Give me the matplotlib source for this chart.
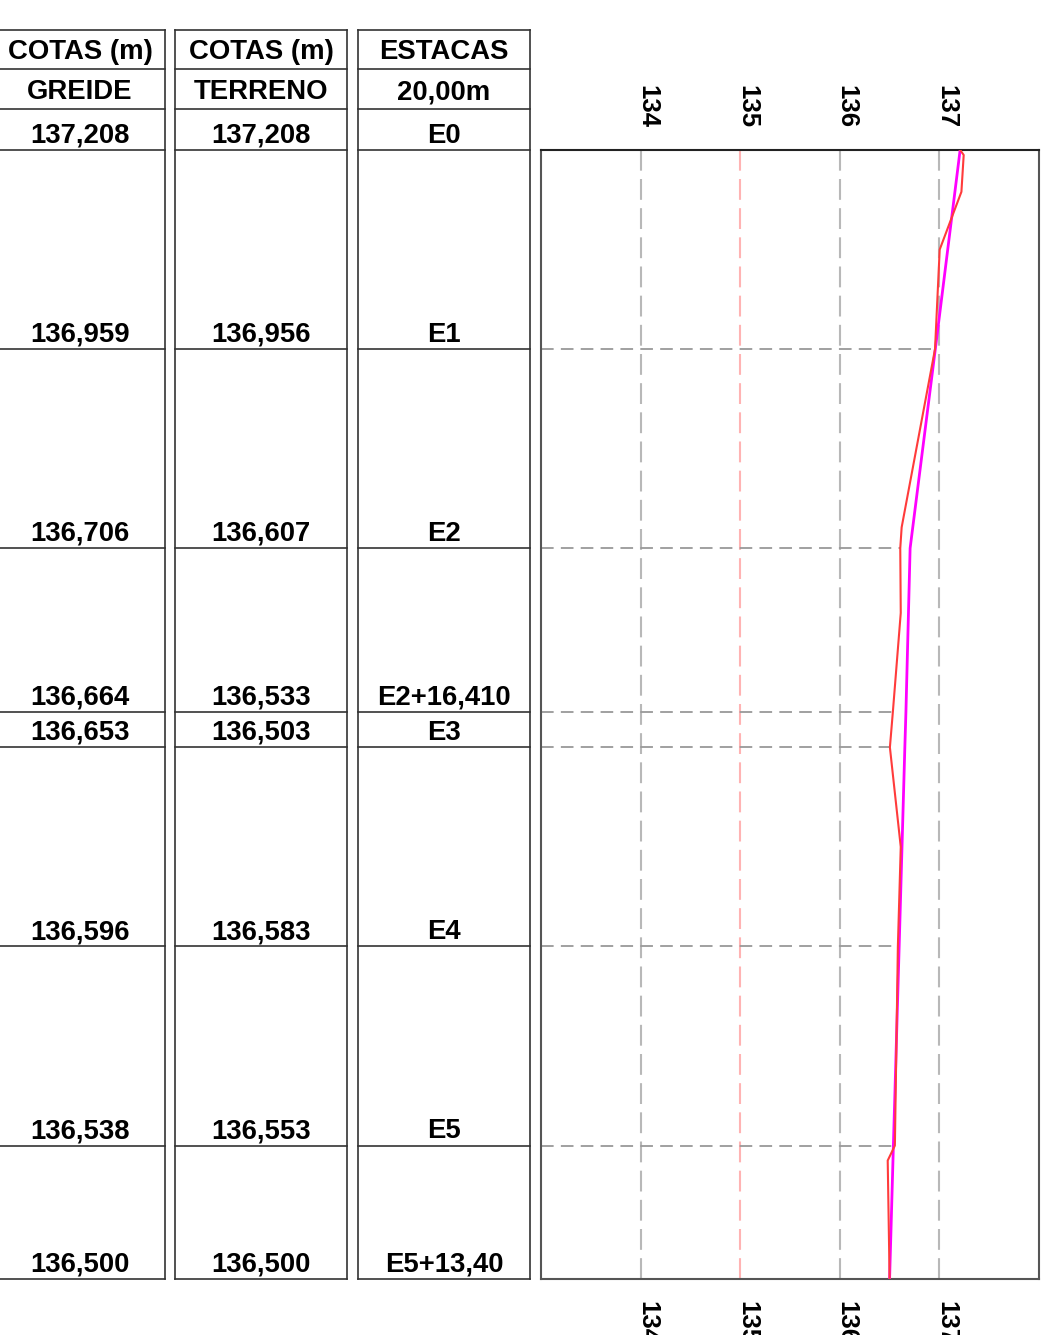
import matplotlib
matplotlib.use("Agg")
import matplotlib.pyplot as plt

plt.rcParams["font.family"] = ["Liberation Sans", "DejaVu Sans"]
plt.rcParams["font.weight"] = "bold"

# stations (distance from E0, m) and table values
estacas = ["E0", "E1", "E2", "E2+16,410", "E3", "E4", "E5", "E5+13,40"]
dist = [0.0, 20.0, 40.0, 56.41, 60.0, 80.0, 100.0, 113.40]
greide = [137.208, 136.959, 136.706, 136.664, 136.653, 136.596, 136.538, 136.500]
terreno = [137.208, 136.956, 136.607, 136.533, 136.503, 136.583, 136.553, 136.500]

# terrain profile as drawn (includes intermediate survey points)
terr_dist = [0.0, 0.5, 4.2, 10.0, 20.0, 37.9, 40.0, 46.5, 56.41, 60.0, 70.0, 80.0, 100.0, 101.5, 113.40]
terr_cota = [137.208, 137.244, 137.221, 137.003, 136.956, 136.621, 136.607, 136.612, 136.533,
             136.503, 136.612, 136.583, 136.553, 136.481, 136.500]

xticks = [134, 135, 136, 137]
headers = [("COTAS (m)", "GREIDE"), ("COTAS (m)", "TERRENO"), ("ESTACAS", "20,00m")]

W, H = 1055, 1335
fig = plt.figure(figsize=(W / 100, H / 100), dpi=100)

# profile axes
ax = fig.add_axes([541 / W, 1 - 1279 / H, (1039 - 541) / W, (1279 - 150) / H])
ax.set_xlim(133, 138)
ax.set_ylim(dist[-1], dist[0])
ax.set_yticks([])
ax.set_xticks(xticks)
ax.set_xticklabels([str(t) for t in xticks])
ax.tick_params(axis="x", length=0, labelsize=18.5, top=False, bottom=False,
               labeltop=True, labelbottom=True, pad=16)
for tick in ax.xaxis.get_major_ticks():
    tick.label1.set_rotation(-90)
    tick.label1.set_rotation_mode("anchor")
    tick.label1.set_ha("left")
    tick.label1.set_va("baseline")
    tick.label2.set_rotation(-90)
    tick.label2.set_rotation_mode("anchor")
    tick.label2.set_ha("right")
    tick.label2.set_va("baseline")
for s in ax.spines.values():
    s.set_color("#555555")
    s.set_linewidth(1.5)
ax.spines["top"].set_color("#222222")

for t in xticks:
    c = "#ffb3b3" if t == 135 else "#b8b8b8"
    ax.axvline(t, color=c, lw=1.5, dashes=(10, 4), zorder=1)

for d, g, tr in zip(dist[1:-1], greide[1:-1], terreno[1:-1]):
    ax.plot([133, min(g, tr)], [d, d], color="#999999", lw=1.3, dashes=(7, 4), zorder=1)

ax.plot(greide, dist, color="#ff00ff", lw=2, zorder=3)
ax.plot(terr_cota, terr_dist, color="#ff3b3b", lw=1.5, zorder=4)

# table axes, same vertical scale as the profile
axt = fig.add_axes([0, 1 - 1279 / H, 531 / W, (1279 - 150) / H], sharey=ax)
axt.set_xlim(0, 531)
axt.axis("off")

cols = [(-3, 165), (175, 347), (358, 530)]
hdr = [-12.1, -8.15, -4.1]
lc = "#333333"
fs = 19.8
for (x0, x1), (h1, h2), values in zip(cols, headers,
                                      [[f"{v:.3f}".replace(".", ",") for v in greide],
                                       [f"{v:.3f}".replace(".", ",") for v in terreno],
                                       estacas]):
    xc = (x0 + x1) / 2 - 1 if x0 < 0 else (x0 + x1) / 2
    for y in [hdr[0], dist[-1]]:
        axt.plot([x0, x1], [y, y], color=lc, lw=1.2, clip_on=False)
    for x in (x0, x1):
        axt.plot([x, x], [hdr[0], dist[-1]], color=lc, lw=1.2, clip_on=False)
    for y in hdr[1:] + dist[:-1]:
        axt.plot([x0, x1], [y, y], color=lc, lw=1.2, clip_on=False)
    axt.text(xc, (hdr[0] + hdr[1]) / 2 + 0.3, h1, ha="center", va="center", fontsize=fs, clip_on=False)
    axt.text(xc, (hdr[1] + hdr[2]) / 2 + 0.3, h2, ha="center", va="center", fontsize=fs, clip_on=False)
    for d, v in zip(dist, values):
        axt.text(xc, d - 0.75, v, ha="center", va="baseline", fontsize=fs, clip_on=False)

fig.savefig("out.png", dpi=100)
